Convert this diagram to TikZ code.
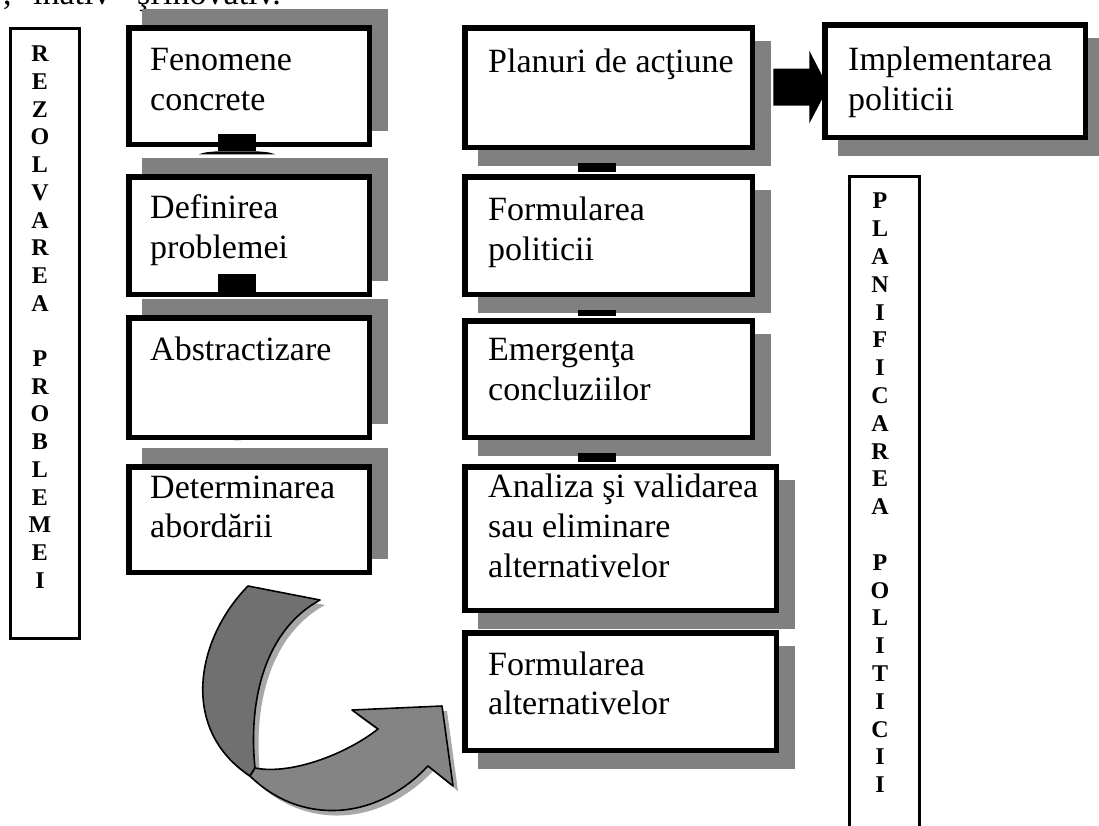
\documentclass[tikz,border=0pt]{standalone}
\usepackage{fontspec}
\setmainfont{Liberation Serif}
\usetikzlibrary{calc}
\definecolor{shadegray}{HTML}{808080}
\definecolor{backgray}{HTML}{707070}
\definecolor{frontgray}{HTML}{848484}
\definecolor{dropgray}{HTML}{A8A8A8}

% box with a solid offset shadow: name, x1, y1, x2, y2, shadow dx, shadow dy
\newcommand{\shadedbox}[7]{%
  \fill[shadow] ({#2+#6},{#3+#7}) rectangle ({#4+#6},{#5+#7});
  \node[stepbox, minimum width={#4-#2-5.5}, minimum height={#5-#3-5.5}]
    (#1) at ({(#2+#4)/2},{(#3+#5)/2}) {};%
}

\begin{document}
\begin{tikzpicture}[x=1pt,y=-1pt,
  stepbox/.style={draw=black, line width=5.5pt, fill=white, inner sep=0pt, outer sep=0pt},
  sidebox/.style={draw=black, line width=2.8pt, inner sep=0pt, outer sep=0pt},
  label/.style={font=\fontsize{34}{40}\selectfont, inner sep=0pt, anchor=base west},
  vletter/.style={font=\fontsize{24}{28}\selectfont\bfseries, inner sep=0pt},
  shadow/.style={fill=shadegray},
  stub/.style={fill=black},
  ribbon/.style={draw=black, line width=1.6pt, line join=round},
]
\fill[white] (0,0) rectangle (1099,825);
\useasboundingbox (0,0) rectangle (1099,825);

% last line of the preceding paragraph
\node[label] (p1) at (3,4) {,};
\node[label] (p2) at (33,4) {inativ};
\node[label] (p3) at (137,4) {şi};
\node[label] (p4) at (163,4) {inovativ.};

% side bands
\node[sidebox, minimum width=72-2.8, minimum height=613-2.8] (rez) at (45,333.5) {};
\foreach \c [count=\i from 0] in {R,E,Z,O,L,V,A,R,E,A,{},P,R,O,B,L,E,M,E,I}
  \node[vletter] (rz\i) at (40,{54+27.7*\i}) {\c};
\node[sidebox, minimum width=73-2.8, minimum height=660-2.8] (plan) at (884.5,505) {};
\foreach \c [count=\i from 0] in {P,L,A,N,I,F,I,C,A,R,E,A,{},P,O,L,I,T,I,C,I,I}
  \node[vletter] (pl\i) at (880,{201+27.8*\i}) {\c};

% left column: problem solving
\shadedbox{L1}{126}{25}{372}{147}{16}{-16}
\shadedbox{L2}{126}{174}{372}{297}{16}{-16}
\shadedbox{L3}{126}{315}{372}{440}{16}{-16}
\shadedbox{L4}{126}{464}{372}{575}{16}{-16}

% right column: policy planning
\shadedbox{R1}{462}{25}{755}{150}{16}{16}
\shadedbox{R2}{462}{174}{755}{297}{16}{16}
\shadedbox{R3}{462}{318}{755}{440}{16}{16}
\shadedbox{R4}{462}{464}{779}{613}{16}{16}
\shadedbox{R5}{462}{630}{779}{753}{16}{16}

% connectors between the left boxes
\begin{scope}[shift={(L1.south)}]
  \fill[stub] (-31,-10) rectangle (7,7);
  \fill[stub] (-50,10) .. controls (-44,8) .. (-31,7) -- (7,7) .. controls (20,8) .. (26,10) -- cycle;
\end{scope}
\begin{scope}[shift={(L2.south)}]
  \fill[stub] (-31,-20) rectangle (7,0);
\end{scope}
\begin{scope}[shift={(L3.south)}]
  \fill[stub] (-39,-1) .. controls (-26,0) and (-20,3) .. (-12,3)
    .. controls (-4,3) and (2,0) .. (13,-1) -- cycle;
\end{scope}

% connectors between the right boxes
\begin{scope}[shift={(R1.south)}]
  \fill[stub] (-30.5,16) rectangle (7.5,25);
\end{scope}
\begin{scope}[shift={(R2.south)}]
  \fill[stub] (-30.5,16) rectangle (7.5,22);
\end{scope}
\begin{scope}[shift={(R3.south)}]
  \fill[stub] (-30.5,16) rectangle (7.5,25);
\end{scope}

% block arrow towards implementation
\begin{scope}[shift={(R1.east)}]
  \fill[black] (21,-19) -- (57,-19) -- (57,-37) -- (76,0) -- (57,36) -- (57,18) -- (21,18) -- cycle;
\end{scope}
\shadedbox{Impl}{822}{22}{1088}{140}{16}{16}

% curved ribbon arrow from the approach box to the alternatives
\fill[dropgray, shift={(5,5)}]
  (248,586) .. controls (195,640) and (180,730) .. (250,776)
  .. controls (300,825) and (375,822) .. (428,766)
  -- (453,786) -- (442,706) -- (352,710) -- (378,729)
  .. controls (345,755) and (290,775) .. (255,768)
  .. controls (248,700) and (265,630) .. (320,600) -- cycle;
\filldraw[ribbon, fill=backgray]
  (248,586) .. controls (195,640) and (180,730) .. (250,776)
  -- (255,768) .. controls (248,700) and (265,630) .. (320,600) -- cycle;
\filldraw[ribbon, fill=frontgray]
  (250,776) .. controls (300,825) and (375,822) .. (428,766)
  -- (453,786) -- (442,706) -- (352,710) -- (378,729)
  .. controls (345,755) and (290,775) .. (255,768) -- cycle;

% box texts
\node[label] (l1a) at (150,70) {Fenomene};
\node[label] (l1b) at (150,110) {concrete};
\node[label] (l2a) at (150,218) {Definirea};
\node[label] (l2b) at (150,258) {problemei};
\node[label] (l3a) at (150,360) {Abstractizare};
\node[label] (l4a) at (150,498) {Determinarea};
\node[label] (l4b) at (150,537) {abordării};

\node[label] (r1a) at (488,72) {Planuri de acţiune};
\node[label] (r2a) at (488,220) {Formularea};
\node[label] (r2b) at (488,260) {politicii};
\node[label] (r3a) at (488,360) {Emergenţa};
\node[label] (r3b) at (488,400) {concluziilor};
\node[label] (r4a) at (488,497) {Analiza şi validarea};
\node[label] (r4b) at (488,537) {sau eliminare};
\node[label] (r4c) at (488,577) {alternativelor};
\node[label] (r5a) at (488,675) {Formularea};
\node[label] (r5b) at (488,714) {alternativelor};

\node[label] (i1a) at (848,70) {Implementarea};
\node[label] (i1b) at (848,110) {politicii};
\end{tikzpicture}
\end{document}
